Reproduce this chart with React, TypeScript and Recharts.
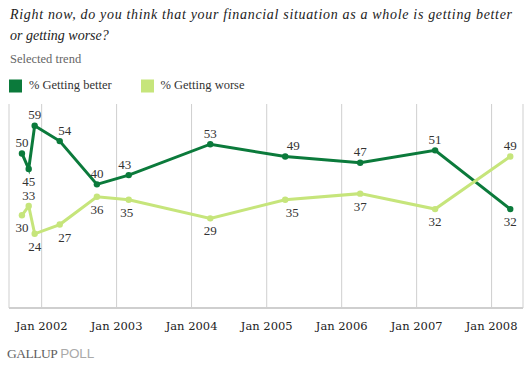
import React from "react";
import { LineChart, Line, XAxis, YAxis, CartesianGrid } from "recharts";

// ---- data ----
const surveyDates = [
  "2001-09-27", "2001-10-30", "2001-11-28", "2002-03-30", "2002-09-27",
  "2003-03-01", "2004-04-01", "2005-04-01", "2006-04-01", "2007-04-01", "2008-04-01",
];
const gettingBetter = [50, 45, 59, 54, 40, 43, 53, 49, 47, 51, 32];
const gettingWorse = [30, 33, 24, 27, 36, 35, 29, 35, 37, 32, 49];
const tickDates = ["2002-01-01", "2003-01-01", "2004-01-01", "2005-01-01", "2006-01-01", "2007-01-01", "2008-01-01"];
const domainDates = ["2001-07-26", "2008-06-02"];
const seriesNames = ["% Getting better", "% Getting worse"];
const titleLines = [
  "Right now, do you think that your financial situation as a whole is getting better",
  "or getting worse?",
];
const subtitle = "Selected trend";

// label placement (style)
const betterLabelPos = ["top", "bottom", "top", "top", "top", "top", "top", "top", "top", "top", "bottom"];
const betterLabelDx = [0, 0, 0, 5, 0, -4, 0, 8, 0, 0, 0];
const worseLabelPos = ["bottom", "top", "bottom", "bottom", "bottom", "bottom", "bottom", "bottom", "bottom", "bottom", "top"];
const worseLabelDx = [0, 0, 0, 5, 0, -2, 0, 7, 0, 0, 0];

const toTs = (s: string) => Date.parse(s + "T00:00:00Z");

const data = surveyDates.map((d, i) => ({
  t: toTs(d),
  better: gettingBetter[i],
  worse: gettingWorse[i],
}));

const DARK = "#0B7A3B";
const LIGHT = "#C6E57B";
const SERIF = "Liberation Serif, Tinos, Times New Roman, Times, DejaVu Serif, serif";
const SERIF2 = "DejaVu Serif, Liberation Serif, serif";

const makeLabel = (pos: string[], dxs: number[]) => (props: any) => {
  const { x, y, value, index } = props;
  const p = pos[index];
  const dx = dxs[index] || 0;
  const yy = p === "top" ? y - 6.5 : y + 17;
  return (
    <text x={x + dx} y={yy} textAnchor="middle" style={{ fontFamily: SERIF, fontSize: 13 }} fill="#333">
      {value}
    </text>
  );
};

const Tick = (props: any) => {
  const { x, y, payload } = props;
  const yr = new Date(payload.value).getUTCFullYear();
  return (
    <text x={x} y={y + 20} textAnchor="middle" style={{ fontFamily: SERIF2, fontSize: 11.5 }} fill="#222">
      {`Jan ${yr}`}
    </text>
  );
};

export default function App() {
  return (
    <div style={{ position: "absolute", left: 0, top: 0, width: 530, height: 367, background: "#fff", fontFamily: SERIF }}>
      <LineChart
        width={530}
        height={367}
        data={data}
        margin={{ top: 104, right: 7, bottom: 0, left: 9 }}
        style={{ fontFamily: SERIF }}
      >
        <CartesianGrid horizontal={false} stroke="#cfcfcf" strokeWidth={1} />
        <XAxis
          type="number"
          dataKey="t"
          domain={[toTs(domainDates[0]), toTs(domainDates[1])]}
          ticks={tickDates.map(toTs)}
          tick={<Tick />}
          tickLine={false}
          tickSize={0}
          axisLine={{ stroke: "#cfcfcf", strokeWidth: 2 }}
          height={59}
          interval={0}
        />
        <YAxis hide domain={[0, 66]} width={0} />
        <Line
          dataKey="better"
          stroke={DARK}
          strokeWidth={3}
          dot={{ r: 3.2, fill: DARK, stroke: DARK, strokeWidth: 0 }}
          isAnimationActive={false}
          label={makeLabel(betterLabelPos, betterLabelDx)}
        />
        <Line
          dataKey="worse"
          stroke={LIGHT}
          strokeWidth={3}
          dot={{ r: 3.2, fill: LIGHT, stroke: LIGHT, strokeWidth: 0 }}
          isAnimationActive={false}
          label={makeLabel(worseLabelPos, worseLabelDx)}
        />
      </LineChart>
      <svg width={530} height={367} style={{ position: "absolute", left: 0, top: 0, pointerEvents: "none", fontFamily: SERIF }}>
        <text x={10} y={19} style={{ fontFamily: SERIF, fontStyle: "italic", fontSize: 14 }} fill="#222" textLength={502} lengthAdjust="spacing">
          {titleLines[0]}
        </text>
        <text x={10} y={40} style={{ fontFamily: SERIF, fontStyle: "italic", fontSize: 14 }} fill="#222">
          {titleLines[1]}
        </text>
        <text x={10} y={63} style={{ fontFamily: SERIF, fontSize: 12.5 }} fill="#666">
          {subtitle}
        </text>
        <rect x={9} y={79.5} width={13} height={13} fill={DARK} />
        <text x={29} y={89} style={{ fontFamily: SERIF, fontSize: 12.5 }} fill="#333">
          {seriesNames[0]}
        </text>
        <rect x={141} y={79.5} width={13} height={13} fill={LIGHT} />
        <text x={160.5} y={89} style={{ fontFamily: SERIF, fontSize: 12.5 }} fill="#333">
          {seriesNames[1]}
        </text>
        <text x={7} y={358} style={{ fontFamily: SERIF, fontSize: 13.5, letterSpacing: -0.5 }} fill="#5f5f5f">
          GALLUP
          <tspan style={{ fontFamily: "Liberation Sans, Arial, sans-serif", fontSize: 13.5, letterSpacing: -0.2 }} fill="#aaaaaa" dx={3}>
            POLL
          </tspan>
        </text>
      </svg>
    </div>
  );
}
